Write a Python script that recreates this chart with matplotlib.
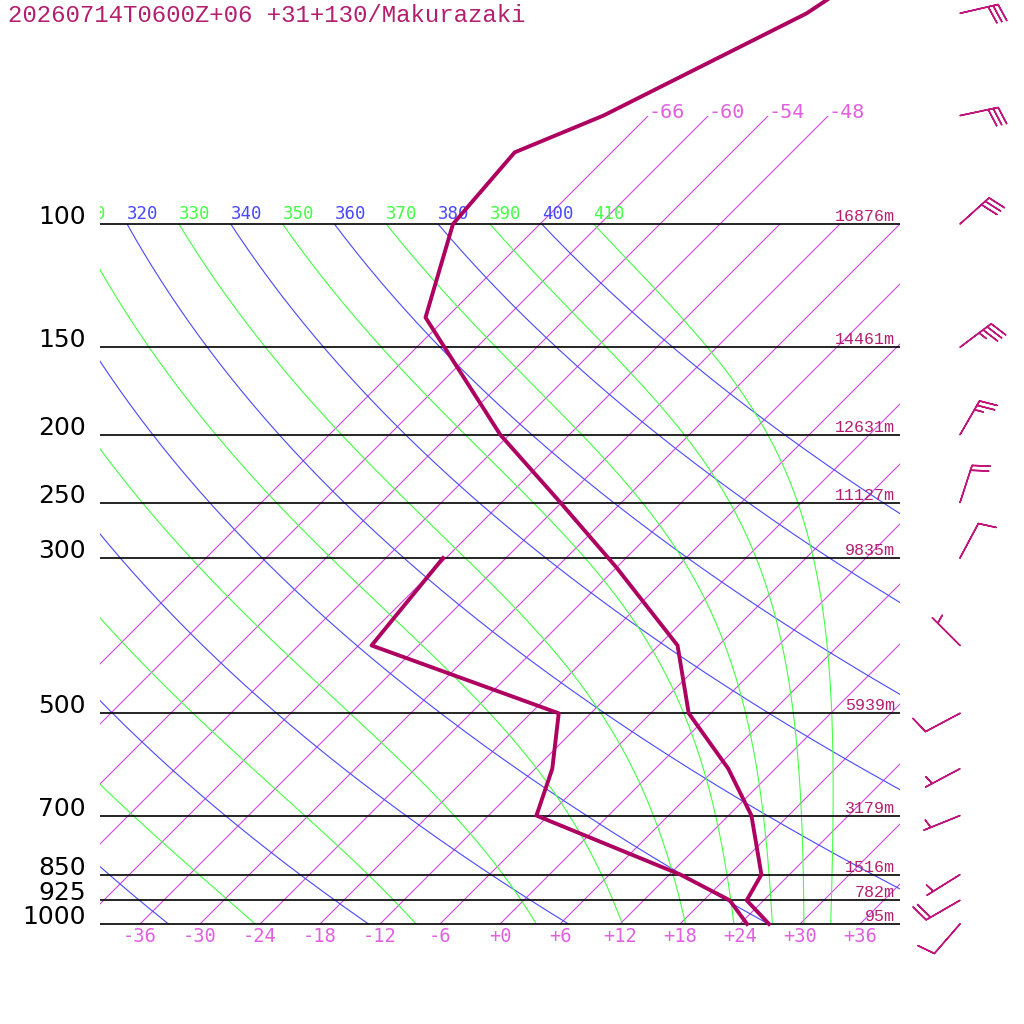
import numpy as np
import matplotlib
matplotlib.use('Agg')
import matplotlib.pyplot as plt
from matplotlib.transforms import Bbox, TransformedBbox

# --- sounding (hPa, degC) ---
temp_pres = [1000, 925, 850, 700, 600, 500, 400, 309, 250, 200, 136, 100, 79, 70, 50, 30]
temp_c = [26.9, 22.3, 21.2, 14.3, 7.3, -2.2, -10.1, -24.1, -36.1, -48.9, -68.1, -74.7, -75.7, -70.5, -60.4, -52.6]
dew_pres = [1000, 925, 850, 700, 600, 500, 400, 300]
dew_c = [24.7, 20.6, 13.1, -7.2, -10.3, -15.2, -40.7, -42.3]

# winds (direction from, knots)
wind_pres = [50, 70, 100, 150, 200, 250, 300, 400, 500, 600, 700, 850, 925, 1000]
wind_dir = [77, 78, 48, 53, 30, 18, 28, 315, 242, 242, 248, 238, 240, 221]
wind_kt = [30, 30, 30, 35, 25, 20, 10, 5, 10, 5, 5, 5, 20, 10]

levels = [100, 150, 200, 250, 300, 500, 700, 850, 925, 1000]
level_heights = [16876, 14461, 12631, 11127, 9835, 5939, 3179, 1516, 782, 95]

isotherms = list(range(-66, 37, 6))
isotherms_long = [-66, -60, -54, -48]
bottom_ticks = list(range(-36, 37, 6))
dry_thetas = list(range(240, 401, 20))
moist_thetas = list(range(250, 411, 20))

title = '20260714T0600Z+06 +31+130/Makurazaki'

# colours
PROFILE = '#ad0060'
TEXT = '#b41e6e'
ISO = '#d048e0'
ISO_TXT = '#e060e0'
BLUE = '#4848ff'
GREEN = '#44ff44'

SKEW = 70.0 / np.log(10)   # degC of shift per ln(1000/p)
RD, CP, LV, EPS = 287.04, 1005.7, 2.501e6, 0.622
KAPPA = RD / CP


def skew(t, p):
    return np.asarray(t, float) + SKEW * np.log(1000.0 / np.asarray(p, float))


def sat_mix(t_k, p):
    tc = t_k - 273.15
    es = 6.112 * np.exp(17.67 * tc / (tc + 243.5))
    return EPS * es / (p - es)


def moist_lapse(t_k, p):
    rs = sat_mix(t_k, p)
    return (RD * t_k + LV * rs) / (CP + LV * LV * rs * EPS / (RD * t_k * t_k))


def moist_adiabat(theta, pres):
    # integrate down from the top pressure (RK4 in ln p)
    t = theta * (pres[0] / 1000.0) ** KAPPA
    out = [t]
    for p0, p1 in zip(pres[:-1], pres[1:]):
        h = np.log(p1) - np.log(p0)
        pm = np.exp(np.log(p0) + h / 2)
        k1 = moist_lapse(t, p0)
        k2 = moist_lapse(t + h * k1 / 2, pm)
        k3 = moist_lapse(t + h * k2 / 2, pm)
        k4 = moist_lapse(t + h * k3, p1)
        t = t + h * (k1 + 2 * k2 + 2 * k3 + k4) / 6
        out.append(t)
    return np.array(out) - 273.15


fig = plt.figure(figsize=(10.24, 10.24), dpi=100)
ax = fig.add_axes([0, 0, 1, 1])
ax.set_yscale('log')
ax.set_xlim(-50, 52.4)
ax.set_ylim(1000 * np.exp(100 / 304.0), 1000 * np.exp(-924 / 304.0))
ax.axis('off')

box = TransformedBbox(Bbox([[-40, 100], [40, 1000]]), ax.transData)
box_high = TransformedBbox(Bbox([[-40, 70], [40, 1000]]), ax.transData)
label_box = TransformedBbox(Bbox([[-40, 40], [40, 1000]]), ax.transData)

pres = np.geomspace(100, 1000, 300)

# isotherms
for t in isotherms:
    top = 70 if t in isotherms_long else 100
    pp = np.array([top, 1000.0])
    ln, = ax.plot(skew([t, t], pp), pp, color=ISO, lw=0.8)
    ln.set_clip_box(box_high if t in isotherms_long else box)
for t in isotherms_long:
    ax.annotate(f'{t}', (skew(t, 70), 70), xytext=(0, 3), textcoords='offset pixels',
                ha='left', va='center', color=ISO_TXT, fontsize=14.5,
                family='DejaVu Sans Mono', annotation_clip=False)

# dry adiabats
for th in dry_thetas:
    tc = th * (pres / 1000.0) ** KAPPA - 273.15
    ln, = ax.plot(skew(tc, pres), pres, color=BLUE, lw=0.8)
    ln.set_clip_box(box)

# moist adiabats
for th in moist_thetas:
    tc = moist_adiabat(th, pres)
    ln, = ax.plot(skew(tc, pres), pres, color=GREEN, lw=0.8)
    ln.set_clip_box(box)

# theta labels along the 100 hPa line (only those reaching into the plot)
for th in sorted(dry_thetas + moist_thetas):
    col = BLUE if th in dry_thetas else GREEN
    t100 = th * 0.1 ** KAPPA - 273.15
    x100 = skew(t100, 100)
    if x100 < -44:
        continue
    lab = ax.annotate(f'{th}', (x100, 100), xytext=(0, 5), textcoords='offset pixels',
                      ha='left', va='baseline', color=col, fontsize=12.5,
                      family='DejaVu Sans Mono', annotation_clip=False)
    lab.set_clip_on(True)
    lab.set_clip_box(label_box)

# pressure levels
ax.hlines(levels, -40, 40, color='black', lw=1.2, zorder=3)
for p, h in zip(levels, level_heights):
    ax.annotate(f'{p}', (-40, p), xytext=(-14, 0), textcoords='offset pixels',
                ha='right', va='baseline', color='black', fontsize=18,
                family='DejaVu Sans', annotation_clip=False)
    ax.annotate(f'{h}m', (40, p), xytext=(-5, 3), textcoords='offset pixels',
                ha='right', va='baseline', color=TEXT, fontsize=12,
                family='Liberation Mono', annotation_clip=False, zorder=4)

for t in bottom_ticks:
    ax.annotate(f'{t:+d}', (t, 1000), xytext=(0, -13), textcoords='offset pixels',
                ha='center', va='center', color=ISO_TXT, fontsize=13.5,
                family='DejaVu Sans Mono', annotation_clip=False)

# profiles
ax.plot(skew(temp_c, temp_pres), temp_pres, color=PROFILE, lw=2.8, zorder=5, clip_on=False)
ax.plot(skew(dew_c, dew_pres), dew_pres, color=PROFILE, lw=2.8, zorder=5)

# wind barbs
wd = np.radians(wind_dir)
u = -np.array(wind_kt) * np.sin(wd)
v = -np.array(wind_kt) * np.cos(wd)
ax.barbs(np.full(len(wind_pres), 46.0), wind_pres, u, v, length=7.5,
         color='#c0157a', linewidth=1.1, clip_on=False,
         sizes=dict(height=0.45, spacing=0.13, width=0.25))

fig.text(8 / 1024, 1 - 4 / 1024, title, ha='left', va='top', fontsize=17.3,
         family='Liberation Mono', color=TEXT)

fig.savefig('out.png', dpi=100, facecolor='white')
